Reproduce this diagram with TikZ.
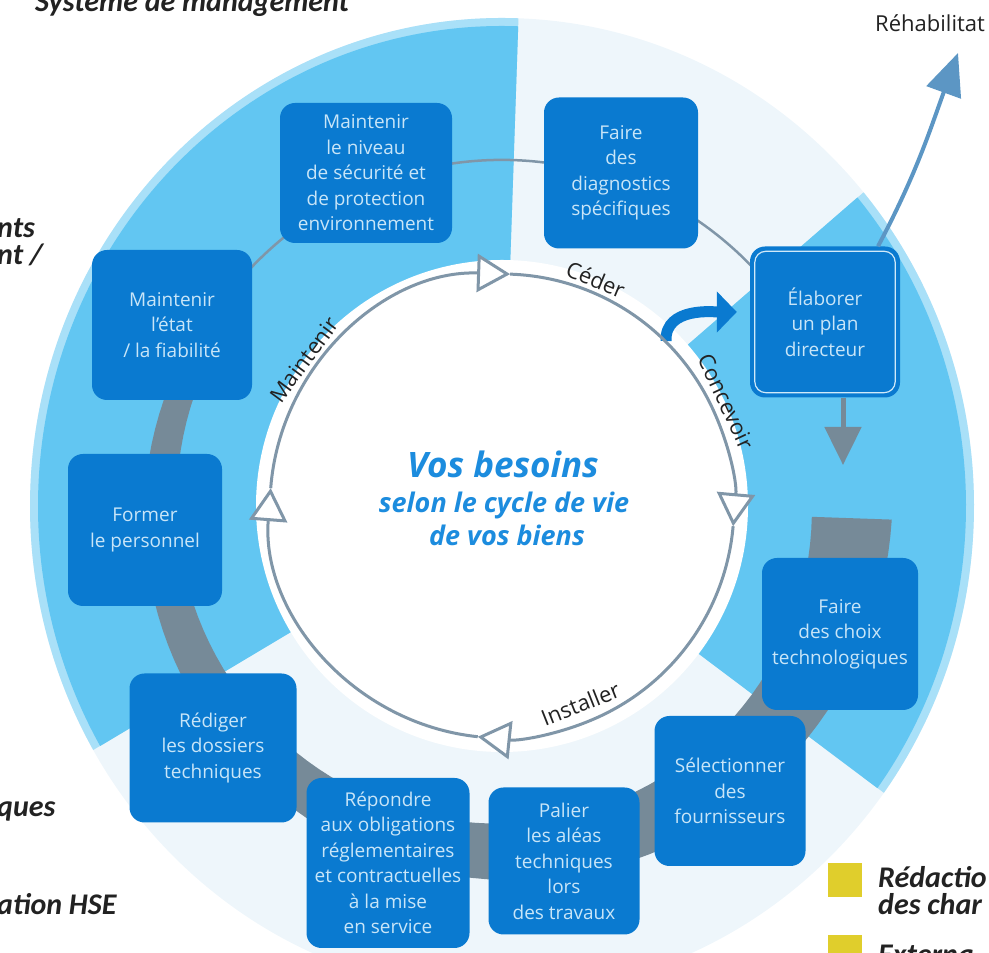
\documentclass[tikz,border=0pt]{standalone}
\usepackage{fontspec}
\setmainfont{Open Sans}
\newfontfamily\sidefont{Carlito}
\usetikzlibrary{arrows.meta,positioning,calc}

\definecolor{skyband}{RGB}{98,198,242}
\definecolor{paleband}{RGB}{238,246,251}
\definecolor{boxblue}{RGB}{10,122,208}
\definecolor{boxtext}{RGB}{200,229,248}
\definecolor{bandgrey}{RGB}{118,138,152}
\definecolor{ringgrey}{RGB}{128,150,168}
\definecolor{needsblue}{RGB}{28,140,222}
\definecolor{arrowsteel}{RGB}{92,150,196}
\definecolor{tagyellow}{RGB}{224,206,44}
\definecolor{inkgrey}{RGB}{34,34,34}

\begin{document}
\begin{tikzpicture}[
    x=1pt,y=1pt,
    stage/.style={rectangle,rounded corners=15pt,fill=boxblue,text=boxtext,align=center,
        inner sep=0pt,font=\fontsize{19}{25.5}\selectfont},
    cycle line/.style={draw=ringgrey,line width=3pt,
        -{Triangle[length=33pt,width=38pt,fill=white]}},
    cycle label/.style={text=inkgrey,font=\fontsize{22}{26}\selectfont,inner sep=0pt},
    needs text/.style={anchor=base,text=needsblue,inner sep=0pt},
    side text/.style={anchor=base west,text=inkgrey,inner sep=0pt,
        font=\sidefont\bfseries\itshape\fontsize{30}{32}\selectfont},
    legend mark/.style={fill=tagyellow,minimum size=34pt,inner sep=0pt}
]
    \useasboundingbox (0,0) rectangle (989,953);
    \clip (0,0) rectangle (989,953);

    \coordinate (c) at (502,447);

    % background band: pale disc with two sky-blue sectors
    \fill[paleband] (c) ellipse[x radius=472pt,y radius=488pt];
    \foreach \a/\b in {88/210,-36/40} {
        \fill[skyband!55] (c) -- ([shift={(\a:472pt and 488pt)}]c)
            arc[start angle=\a,end angle=\b,x radius=472pt,y radius=488pt] -- cycle;
        \fill[skyband] (c) -- ([shift={(\a:464pt and 480pt)}]c)
            arc[start angle=\a,end angle=\b,x radius=464pt,y radius=480pt] -- cycle;
    }
    \fill[white] (c) circle[radius=246pt];

    % thick grey band behind the lower stages, widening to the right
    \fill[bandgrey]
        plot[domain=160:358,samples=80]
            ({502+(327-17*(\x-160)/198)*cos(\x)},{447+(327-17*(\x-160)/198)*sin(\x)})
        -- plot[domain=358:160,samples=80]
            ({502+(354+36*(\x-160)/198)*cos(\x)},{447+(354+36*(\x-160)/198)*sin(\x)})
        -- cycle;
    % thin link behind the upper stages
    \draw[ringgrey,line width=2.5pt] ([shift={(22:346pt)}]c)
        arc[start angle=22,end angle=162,radius=346pt];

    % stages of the life cycle
    \node[stage,minimum width=172pt,minimum height=140pt] (niveau) at (366,780)
        {Maintenir\\le niveau\\de sécurité et\\de protection\\environnement};
    \node[stage,minimum width=154pt,minimum height=151pt] (diag) at (621,780)
        {Faire\\des\\diagnostics\\spécifiques};
    \node[stage,minimum width=150pt,minimum height=151pt] (plan) at (825,631)
        {Élaborer\\un plan\\directeur};
    \draw[boxtext!85,line width=1.2pt,rounded corners=11pt]
        ([shift={(5pt,5pt)}]plan.south west) rectangle ([shift={(-5pt,-5pt)}]plan.north east);
    \node[stage,minimum width=156pt,minimum height=152pt] (choix) at (840,319)
        {Faire\\des choix\\technologiques};
    \node[stage,minimum width=151pt,minimum height=150pt] (fourn) at (730,162)
        {Sélectionner\\des\\fournisseurs};
    \node[stage,minimum width=151pt,minimum height=147pt] (aleas) at (564,92)
        {Palier\\les aléas\\techniques\\lors\\des travaux};
    \node[stage,minimum width=163pt,minimum height=170pt] (oblig) at (388,90)
        {Répondre\\aux obligations\\réglementaires\\et contractuelles\\à la mise\\en service};
    \node[stage,minimum width=167pt,minimum height=149pt] (rediger) at (213,205)
        {Rédiger\\les dossiers\\techniques};
    \node[stage,minimum width=154pt,minimum height=152pt] (former) at (145,423)
        {Former\\le personnel};
    \node[stage,minimum width=160pt,minimum height=150pt] (etat) at (172,628)
        {Maintenir\\l'état\\/ la fiabilité};

    % arrows around the master plan
    \coordinate (turn start) at (666,612);
    \coordinate (plan drop) at (843,488);
    \coordinate (rehab tip) at (958,900);
    \draw[boxblue,line width=11pt,-{Triangle[length=20pt,width=40pt]},shorten >=13pt]
        (turn start) to[out=92,in=180] ([yshift=10pt]plan.west);
    \draw[bandgrey,line width=5pt,-{Triangle[length=38pt,width=36pt]}]
        ([xshift=18pt]plan.south) -- (plan drop);
    \draw[arrowsteel,line width=4pt,-{Triangle[length=42pt,width=36pt]}]
        ([xshift=53pt]plan.north) to[out=62,in=-110] (rehab tip);
    \node[anchor=base west,text=inkgrey,font=\fontsize{22}{26}\selectfont,inner sep=0pt]
        (rehab) at (875,921) {Réhabilitat};

    % inner cycle with its four phases
    \foreach \a/\b in {175.6/88,88/-5,-5/-96,-96/-184.4}
        \draw[cycle line] ([shift={(\a:232pt)}]c) arc[start angle=\a,end angle=\b,radius=232pt];
    \node[cycle label,rotate=-22.5] (ceder) at ([shift={(67.5:245pt)}]c) {Céder};
    \node[cycle label,rotate=-65] (concevoir) at ([shift={(25:247pt)}]c) {Concevoir};
    \node[cycle label,rotate=21.6] (installer) at ([shift={(-68.4:213pt)}]c) {Installer};
    \node[cycle label,rotate=53.5] (maintenir) at ([shift={(143.5:246pt)}]c) {Maintenir};

    \node[needs text,font=\bfseries\itshape\fontsize{35}{40}\selectfont] (needs) at (503,475) {Vos besoins};
    \node[needs text,font=\bfseries\itshape\fontsize{27}{30}\selectfont] (lifecycle) at (504,440) {selon le cycle de vie};
    \node[needs text,font=\bfseries\itshape\fontsize{27}{30}\selectfont] (goods) at (507,407) {de vos biens};

    % cut-off side captions
    \node[side text] (system) at (35,941) {Système de management};
    \node[side text] (left one) at (-3,715) {nts};
    \node[side text] (left two) at (-3,688) {nt /};
    \node[side text] (left three) at (-3,136) {ques};
    \node[side text] (left four) at (-3,38) {ation HSE};

    \node[legend mark] (mark one) at (845,73) {};
    \node[legend mark] (mark two) at (845,1) {};
    \node[side text] (legend one) at (878,65) {Rédactio};
    \node[side text] (legend two) at (878,38) {des char};
    \node[side text] (legend three) at (878,-12) {Externa};
\end{tikzpicture}
\end{document}
